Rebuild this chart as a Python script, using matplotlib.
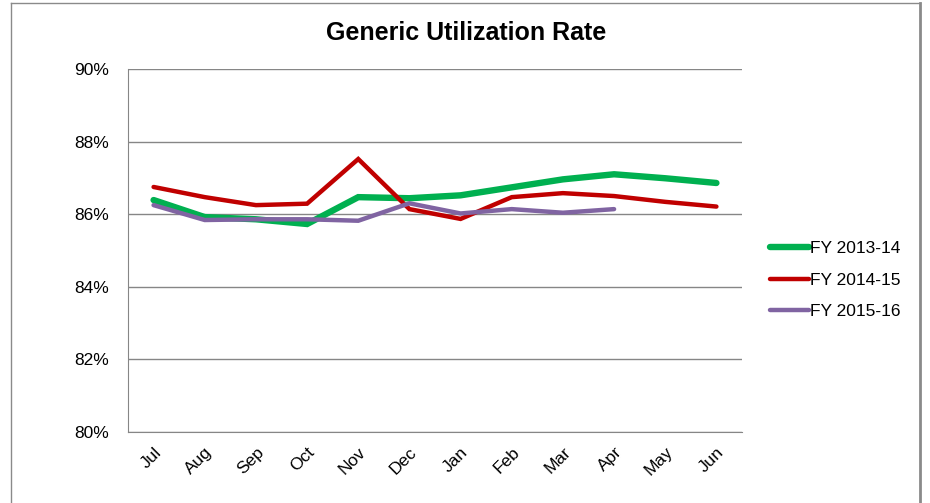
import matplotlib
matplotlib.use("Agg")
import matplotlib.pyplot as plt
from matplotlib.lines import Line2D
from matplotlib.ticker import FuncFormatter

plt.rcParams['font.family'] = ['Liberation Sans', 'DejaVu Sans']

months = ["Jul", "Aug", "Sep", "Oct", "Nov", "Dec", "Jan", "Feb", "Mar", "Apr", "May", "Jun"]
fy_2013_14 = [86.39, 85.92, 85.86, 85.73, 86.47, 86.44, 86.52, 86.74, 86.96, 87.10, 86.99, 86.86]
fy_2014_15 = [86.75, 86.47, 86.25, 86.29, 87.52, 86.14, 85.87, 86.47, 86.58, 86.50, 86.34, 86.21]
fy_2015_16 = [86.25, 85.84, 85.86, 85.86, 85.82, 86.30, 86.02, 86.14, 86.04, 86.14]

series_names = ["FY 2013-14", "FY 2014-15", "FY 2015-16"]
colors = ["#00B050", "#C00000", "#8064A2"]
widths = [4.6, 3.2, 3.2]
y_ticks = [80, 82, 84, 86, 88, 90]

fig = plt.figure(figsize=(9.30, 5.03), dpi=100)
ax = fig.add_axes([128/930, 1-432/503, (742-128)/930, (432-69)/503])

x = list(range(len(months)))
for vals, name, c, w in zip([fy_2013_14, fy_2014_15, fy_2015_16], series_names, colors, widths):
    ax.plot(x[:len(vals)], vals, color=c, lw=w, label=name, solid_capstyle='round', solid_joinstyle='miter')

ax.set_xlim(-0.5, len(months) - 0.5)
ax.set_ylim(80, 90)
ax.set_yticks(y_ticks)
ax.yaxis.set_major_formatter(FuncFormatter(lambda v, p: f"{v:.0f}%"))
ax.set_xticks(x)
ax.set_xticklabels(months, rotation=45, ha='right', rotation_mode='anchor', fontsize=12.5)
ax.tick_params(axis='y', labelsize=12.5, length=0, pad=14)
ax.tick_params(axis='x', length=0, pad=9)
ax.grid(axis='y', color='#868686', lw=1.0)
ax.set_axisbelow(True)
for s in ['top', 'right']:
    ax.spines[s].set_visible(False)
ax.spines['left'].set_color('#868686')
ax.spines['bottom'].set_color('#868686')

fig.text(466/930, 1-33/503, "Generic Utilization Rate", fontsize=18, fontweight='bold',
         ha='center', va='center')

leg = ax.legend(loc='center left', bbox_to_anchor=(1.02, 0.418), frameon=False, fontsize=12.5,
                handlelength=2.25, handletextpad=0.05, labelspacing=0.95)

# outer chart border
bc = '#8a8a8a'
fig.add_artist(Line2D([11/930, 11/930], [0, 1-3/503], transform=fig.transFigure, color=bc, lw=1.0))
fig.add_artist(Line2D([11/930, 920/930], [1-3/503, 1-3/503], transform=fig.transFigure, color=bc, lw=1.0))
fig.add_artist(Line2D([920/930, 920/930], [0, 1-3/503], transform=fig.transFigure, color=bc, lw=2.0))

fig.savefig("out.png", dpi=100)
